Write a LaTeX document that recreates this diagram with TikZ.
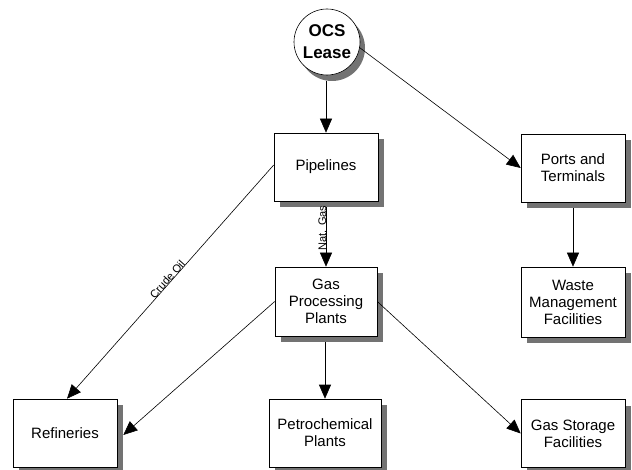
\documentclass[tikz,border=0pt]{standalone}
\usepackage{fontspec}
\setmainfont{Liberation Sans}
\usetikzlibrary{arrows.meta}
\definecolor{shadowgray}{RGB}{115,115,115}
\begin{document}
\begin{tikzpicture}[x=1pt,y=-1pt,
  box/.style={draw=black,line width=0.6pt,fill=white,minimum width=104pt,minimum height=68pt,align=center,font=\fontsize{15}{17}\selectfont,inner sep=2pt},
  arr/.style={draw=black,line width=0.6pt,-{Triangle[length=14pt,width=12pt]}},
  lab/.style={font=\fontsize{11}{12}\selectfont,inner sep=0.5pt}]
\useasboundingbox (0,0) rectangle (632,470);
% shadows
\fill[shadowgray] (332,48) circle (33);
\fill[shadowgray] (280,139) rectangle (384,207);
\fill[shadowgray] (527,140) rectangle (631,208);
\fill[shadowgray] (527,273) rectangle (631,343);
\fill[shadowgray] (281,273) rectangle (383,342);
\fill[shadowgray] (19,405) rectangle (123,473);
\fill[shadowgray] (275,405) rectangle (387,473);
\fill[shadowgray] (527,405.5) rectangle (631,473.5);
% nodes
\node[circle,draw=black,line width=0.6pt,fill=white,minimum size=66pt,align=center,
  font=\bfseries\fontsize{17}{22}\selectfont,inner sep=0pt] (ocs) at (327,42) {OCS\\Lease};
\node[box] (pipe) at (326,167) {Pipelines};
\node[box] (ports) at (573,168) {Ports and\\Terminals};
\node[box,minimum height=70pt] (waste) at (573,302) {Waste\\Management\\Facilities};
\node[box,minimum width=102pt,minimum height=69pt] (gpp) at (326,301.5) {Gas\\Processing\\Plants};
\node[box] (ref) at (65,433) {Refineries};
\node[box,minimum width=112pt] (petro) at (325,433) {Petrochemical\\Plants};
\node[box] (store) at (573,433.5) {Gas Storage\\Facilities};
% connectors
\draw[arr] ([yshift=-6pt]pipe.north |- ocs.south) -- (pipe.north);
\draw[arr] (ocs.-10) -- (ports.west);
\draw[arr] ([yshift=-6pt]pipe.south) -- (gpp.north);
\node[lab,rotate=90,anchor=base] (natgas) at (326,228) {Nat. Gas};
\draw[arr] ([yshift=2pt]pipe.west) -- node[lab,sloped,anchor=base,pos=0.5] (crude) {Crude Oil} ([xshift=2pt]ref.north);
\draw[arr] (gpp.west) -- ([xshift=6pt,yshift=-2pt]ref.east);
\draw[arr] ([yshift=-6pt]gpp.south -| petro.north) -- (petro.north);
\draw[arr] (gpp.east) -- (store.west);
\draw[arr] ([yshift=-6pt]ports.south) -- (waste.north);
\end{tikzpicture}
\end{document}
